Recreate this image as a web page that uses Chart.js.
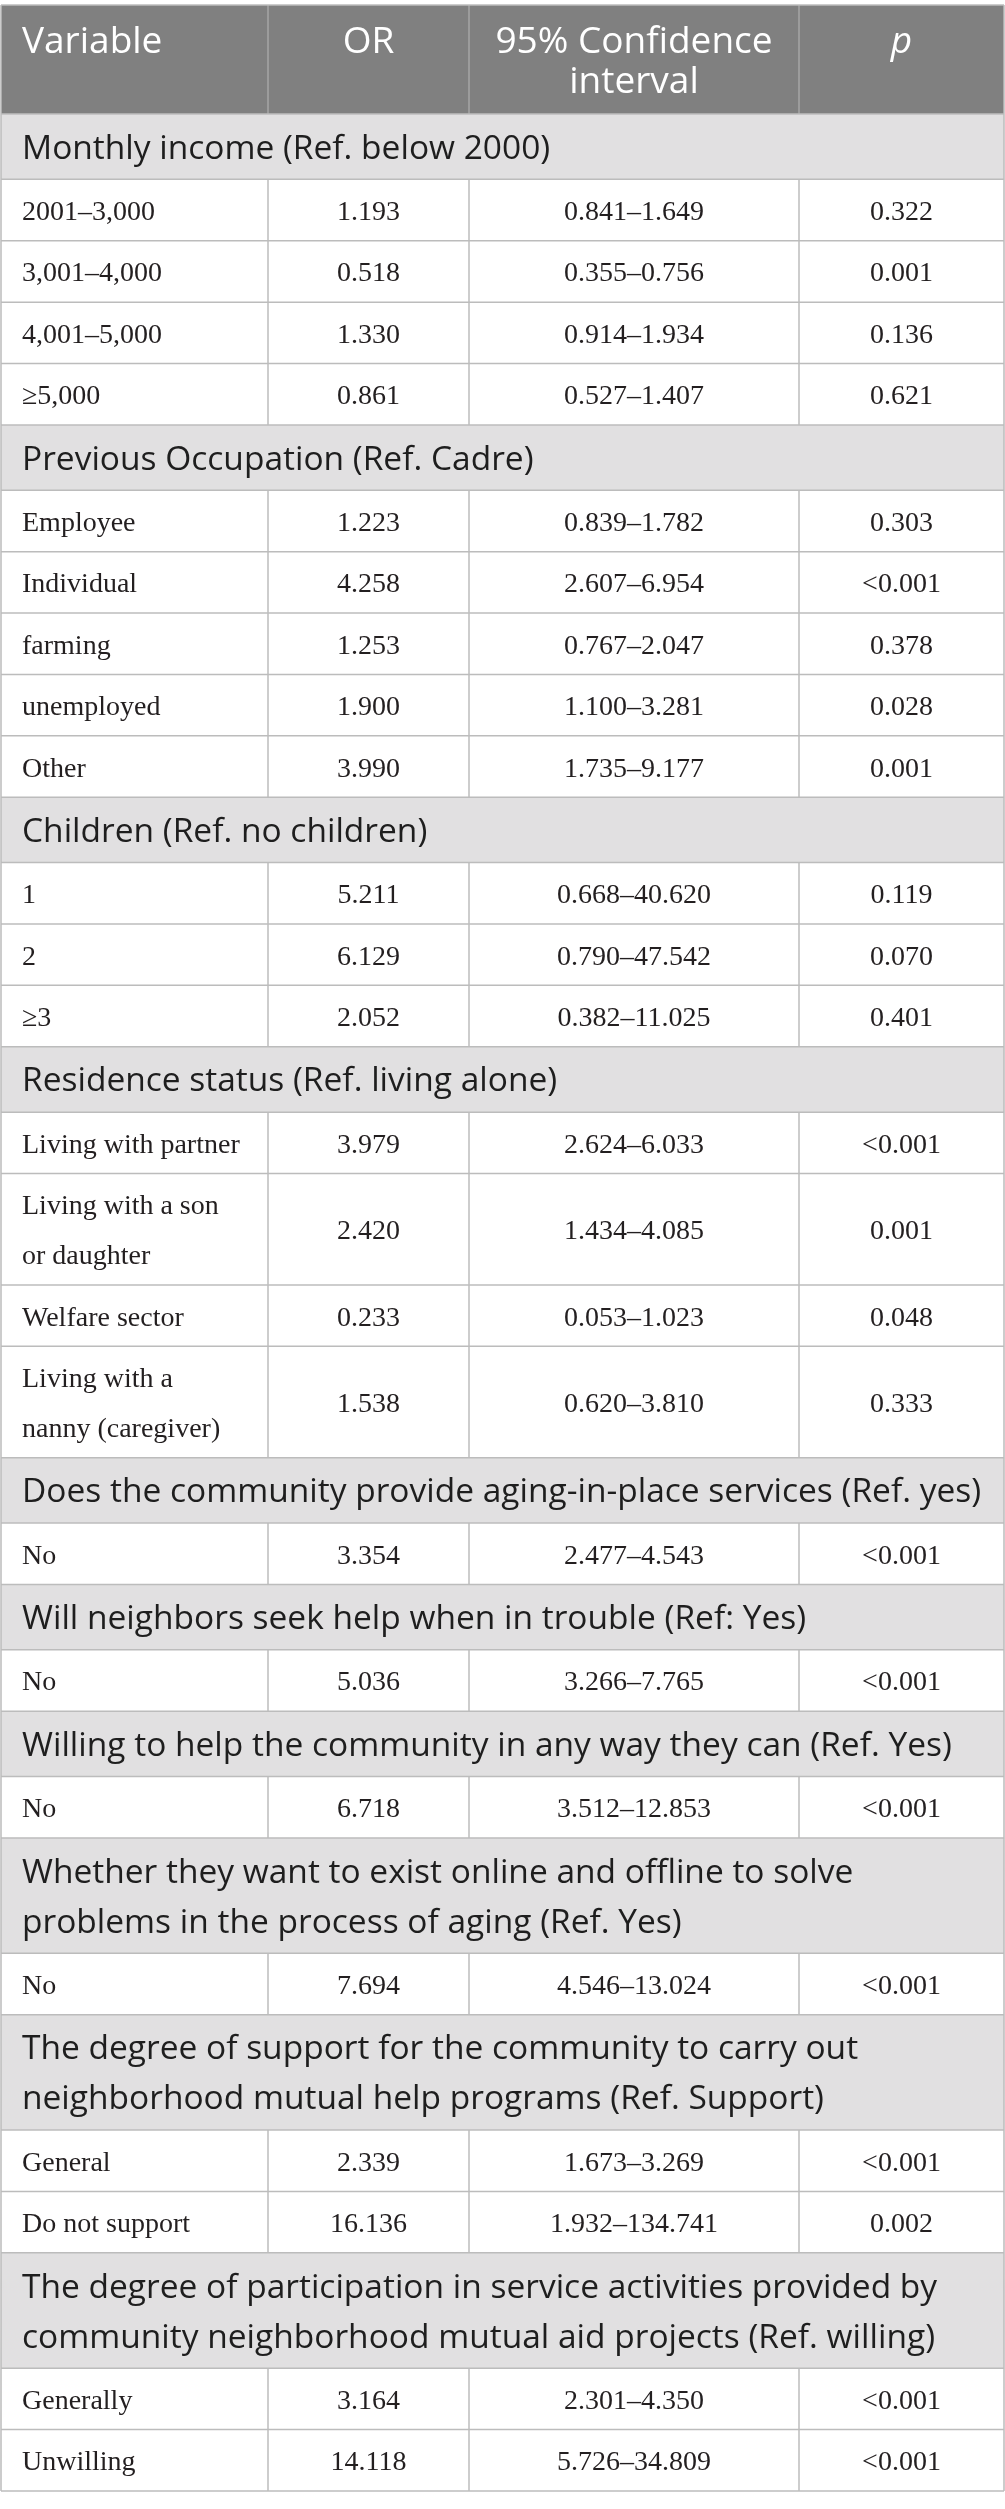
<!DOCTYPE html>
<html>
<head>
<meta charset="utf-8">
<title>Odds ratios table</title>
<script src="https://cdn.jsdelivr.net/npm/chart.js@4.4.1/dist/chart.umd.min.js"></script>
<style>
  html, body { margin: 0; padding: 0; background: #ffffff; }
  #tableChart { display: block; }
</style>
</head>
<body>
<canvas id="tableChart" width="1005" height="2509"></canvas>
<script>
// table content
const columnHeaders = ["Variable", "OR", "95% Confidence\ninterval", "p"];

const groupTitles = [
  "Monthly income (Ref. below 2000)",
  "Previous Occupation (Ref. Cadre)",
  "Children (Ref. no children)",
  "Residence status (Ref. living alone)",
  "Does the community provide aging-in-place services (Ref. yes)",
  "Will neighbors seek help when in trouble (Ref: Yes)",
  "Willing to help the community in any way they can (Ref. Yes)",
  "Whether they want to exist online and offline to solve\nproblems in the process of aging (Ref. Yes)",
  "The degree of support for the community to carry out\nneighborhood mutual help programs (Ref. Support)",
  "The degree of participation in service activities provided by\ncommunity neighborhood mutual aid projects (Ref. willing)",
];

const rowGroup = [0, 0, 0, 0, 1, 1, 1, 1, 1, 2, 2, 2, 3, 3, 3, 3, 4, 5, 6, 7, 8, 8, 9, 9];

const rowLabels = [
  "2001–3,000", "3,001–4,000", "4,001–5,000", "≥5,000",
  "Employee", "Individual", "farming", "unemployed", "Other",
  "1", "2", "≥3",
  "Living with partner", "Living with a son\nor daughter", "Welfare sector", "Living with a\nnanny (caregiver)",
  "No", "No", "No", "No",
  "General", "Do not support",
  "Generally", "Unwilling",
];

const oddsRatio = [1.193, 0.518, 1.330, 0.861, 1.223, 4.258, 1.253, 1.900, 3.990, 5.211, 6.129, 2.052,
  3.979, 2.420, 0.233, 1.538, 3.354, 5.036, 6.718, 7.694, 2.339, 16.136, 3.164, 14.118];
const ciLower = [0.841, 0.355, 0.914, 0.527, 0.839, 2.607, 0.767, 1.100, 1.735, 0.668, 0.790, 0.382,
  2.624, 1.434, 0.053, 0.620, 2.477, 3.266, 3.512, 4.546, 1.673, 1.932, 2.301, 5.726];
const ciUpper = [1.649, 0.756, 1.934, 1.407, 1.782, 6.954, 2.047, 3.281, 9.177, 40.620, 47.542, 11.025,
  6.033, 4.085, 1.023, 3.810, 4.543, 7.765, 12.853, 13.024, 3.269, 134.741, 4.350, 34.809];
const pValues = ["0.322", "0.001", "0.136", "0.621", "0.303", "<0.001", "0.378", "0.028", "0.001",
  "0.119", "0.070", "0.401", "<0.001", "0.001", "0.048", "0.333", "<0.001", "<0.001", "<0.001",
  "<0.001", "<0.001", "0.002", "<0.001", "<0.001"];

// layout (x in table pixels, y in row units)
const colEdges = [0, 267, 468, 798, 1003];
const HEADER_H = 109;
const SECTION_H = 65.4;
const DATA_H = 61.4;
const LINE_STEP = 50;

const SANS = '"Open Sans", "Noto Sans", sans-serif';
const SERIF = '"Liberation Serif", "DejaVu Serif", serif';

// build the list of rows with their y range
const rows = [];
let yPos = 0;
function pushRow(kind, cells) {
  const lines = Math.max(...cells.map((c) => c.split("\n").length));
  let h;
  if (kind === "header") h = HEADER_H;
  else if (kind === "section") h = SECTION_H + LINE_STEP * (lines - 1);
  else h = DATA_H + LINE_STEP * (lines - 1);
  rows.push({ kind: kind, cells: cells, y0: yPos, y1: yPos + h });
  yPos += h;
}

pushRow("header", columnHeaders);
groupTitles.forEach((title, g) => {
  pushRow("section", [title]);
  rowGroup.forEach((grp, i) => {
    if (grp !== g) return;
    pushRow("data", [
      rowLabels[i],
      oddsRatio[i].toFixed(3),
      ciLower[i].toFixed(3) + "–" + ciUpper[i].toFixed(3),
      pValues[i],
    ]);
  });
});
const totalHeight = yPos;

function drawLines(ctx, text, x, yMid, step, offset, align) {
  const parts = text.split("\n");
  ctx.textAlign = align;
  parts.forEach((t, k) => {
    ctx.fillText(t, x, yMid - (step / 2) * (parts.length - 1) + step * k + offset);
  });
}

const tablePlugin = {
  id: "tableCells",
  afterDraw(chart) {
    const ctx = chart.ctx;
    const xs = chart.scales.x;
    const ys = chart.scales.y;
    const px = colEdges.map((e) => xs.getPixelForValue(e));
    const left = px[0];
    const right = px[px.length - 1];

    ctx.save();
    ctx.textBaseline = "alphabetic";

    rows.forEach((row) => {
      const top = ys.getPixelForValue(row.y0);
      const bottom = ys.getPixelForValue(row.y1);
      const mid = (top + bottom) / 2;

      // background
      if (row.kind === "header") ctx.fillStyle = "#808080";
      else if (row.kind === "section") ctx.fillStyle = "#e1e0e1";
      else ctx.fillStyle = "#ffffff";
      ctx.fillRect(left, top, right - left, bottom - top);

      if (row.kind === "header") {
        ctx.fillStyle = "#ffffff";
        row.cells.forEach((txt, c) => {
          ctx.font = (c === 3 ? "italic " : "") + "37px " + SANS;
          const firstLine = top + 48;
          const parts = txt.split("\n");
          ctx.textAlign = c === 0 ? "left" : "center";
          const x = c === 0 ? px[0] + 21 : (px[c] + px[c + 1]) / 2;
          parts.forEach((t, k) => ctx.fillText(t, x, firstLine + 40 * k));
        });
        // column separators in header
        ctx.strokeStyle = "#a6a6a6";
        ctx.lineWidth = 1.5;
        for (let c = 1; c < px.length - 1; c++) {
          ctx.beginPath();
          ctx.moveTo(px[c], top);
          ctx.lineTo(px[c], bottom);
          ctx.stroke();
        }
      } else if (row.kind === "section") {
        ctx.fillStyle = "#1e1e1e";
        ctx.font = "33.5px " + SANS;
        drawLines(ctx, row.cells[0], px[0] + 21, mid, LINE_STEP, 12, "left");
      } else {
        ctx.fillStyle = "#231f20";
        ctx.font = "28px " + SERIF;
        drawLines(ctx, row.cells[0], px[0] + 21, mid, LINE_STEP, 10, "left");
        for (let c = 1; c < 4; c++) {
          drawLines(ctx, row.cells[c], (px[c] + px[c + 1]) / 2, mid, LINE_STEP, 10, "center");
        }
        ctx.strokeStyle = "#bcbcbc";
        ctx.lineWidth = 1.5;
        for (let c = 1; c < px.length - 1; c++) {
          ctx.beginPath();
          ctx.moveTo(px[c], top);
          ctx.lineTo(px[c], bottom);
          ctx.stroke();
        }
      }
    });

    // horizontal rules between rows and the outer frame
    ctx.strokeStyle = "#bcbcbc";
    ctx.lineWidth = 1.5;
    rows.forEach((row) => {
      const yTop = ys.getPixelForValue(row.y0);
      ctx.beginPath();
      ctx.moveTo(left, yTop);
      ctx.lineTo(right, yTop);
      ctx.stroke();
    });
    const yEnd = ys.getPixelForValue(totalHeight);
    ctx.beginPath();
    ctx.moveTo(left, yEnd);
    ctx.lineTo(right, yEnd);
    ctx.stroke();
    ctx.beginPath();
    ctx.moveTo(left, ys.getPixelForValue(0));
    ctx.lineTo(left, yEnd);
    ctx.moveTo(right, ys.getPixelForValue(0));
    ctx.lineTo(right, yEnd);
    ctx.stroke();

    ctx.restore();
  },
};

const ctx = document.getElementById("tableChart").getContext("2d");
const tableChart = new Chart(ctx, {
  type: "scatter",
  data: { datasets: [] },
  options: {
    responsive: false,
    animation: false,
    devicePixelRatio: 1,
    events: [],
    layout: { padding: { left: 1, right: 1, top: 5, bottom: 18 } },
    plugins: { legend: { display: false }, tooltip: { enabled: false } },
    scales: {
      x: { type: "linear", min: 0, max: 1003, display: false },
      y: { type: "linear", min: 0, max: totalHeight, reverse: true, display: false },
    },
  },
  plugins: [tablePlugin],
});
</script>
</body>
</html>
